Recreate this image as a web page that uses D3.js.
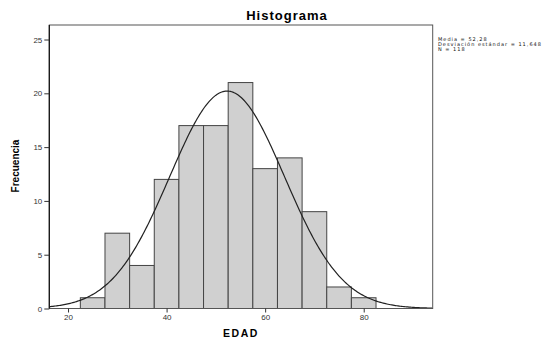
<!DOCTYPE html>
<html>
<head>
<meta charset="utf-8">
<script src="https://cdn.jsdelivr.net/npm/d3@7"></script>
<style>
  body { margin: 0; background: #fff; }
  text { font-family: "Liberation Sans", Arial, sans-serif; }
</style>
</head>
<body>
<svg id="chart" width="557" height="338"></svg>
<script>
// histogram bins (EDAD), width 5
const binStarts = [22.5, 27.5, 32.5, 37.5, 42.5, 47.5, 52.5, 57.5, 62.5, 67.5, 72.5, 77.5];
const counts = [1, 7, 4, 12, 17, 17, 21, 13, 14, 9, 2, 1];
const binWidth = 5;
const xTicks = [20, 40, 60, 80];
const yTicks = [0, 5, 10, 15, 20, 25];
const stats = { mean: 52.28, sd: 11.648, n: 118 };
const legendLines = ["Media = 52,28", "Desviación estándar = 11,648", "N = 118"];

const margin = {top: 25, left: 49.3, right: 124.3, bottom: 29.5};
const W = 557, H = 338;
const width = W - margin.left - margin.right;
const height = H - margin.top - margin.bottom;

const svg = d3.select("#chart");
const g = svg.append("g")
  .attr("transform", "translate(" + margin.left + "," + margin.top + ")");

const x = d3.scaleLinear().domain([16.2, 94]).range([0, width]);
const y = d3.scaleLinear().domain([0, 26.35]).range([height, 0]);

// bars
g.selectAll(".bar")
  .data(binStarts.map((s, i) => ({s: s, c: counts[i]})))
  .enter().append("rect")
  .attr("class", "bar")
  .attr("x", d => x(d.s))
  .attr("y", d => y(d.c))
  .attr("width", d => x(d.s + binWidth) - x(d.s))
  .attr("height", d => y(0) - y(d.c))
  .attr("fill", "#d0d0d0")
  .attr("stroke", "#444")
  .attr("stroke-width", 1);

// fitted normal curve
const curvePts = d3.range(x.domain()[0], x.domain()[1] + 0.01, 0.25).map(v => {
  const z = (v - stats.mean) / stats.sd;
  return [v, stats.n * binWidth / (stats.sd * Math.sqrt(2 * Math.PI)) * Math.exp(-0.5 * z * z)];
});
g.append("path")
  .datum(curvePts)
  .attr("fill", "none")
  .attr("stroke", "#222")
  .attr("stroke-width", 1.2)
  .attr("d", d3.line().x(d => x(d[0])).y(d => y(d[1])));

// frame
g.append("rect")
  .attr("width", width).attr("height", height)
  .attr("fill", "none").attr("stroke", "#555").attr("stroke-width", 1);
g.append("line").attr("x1", 0).attr("x2", 0).attr("y1", 0).attr("y2", height)
  .attr("stroke", "#111").attr("stroke-width", 1.2);

// axes
const yAxis = g.append("g")
  .call(d3.axisLeft(y).tickValues(yTicks).tickSize(5).tickPadding(2));
const xAxis = g.append("g")
  .attr("transform", "translate(0," + height + ")")
  .call(d3.axisBottom(x).tickValues(xTicks).tickSize(4).tickPadding(2));
[xAxis, yAxis].forEach(a => {
  a.select(".domain").remove();
  a.selectAll("line").attr("stroke", "#333");
  a.selectAll("text").attr("fill", "#333")
    .style("font-family", "'Liberation Sans', Arial, sans-serif")
    .style("font-size", "8px");
});

// titles
svg.append("text")
  .attr("x", 287).attr("y", 20)
  .attr("text-anchor", "middle")
  .style("font-size", "13px").style("font-weight", "bold").style("letter-spacing", "1px")
  .text("Histograma");

svg.append("text")
  .attr("x", 241).attr("y", 337)
  .attr("text-anchor", "middle")
  .style("font-size", "10.5px").style("font-weight", "bold").style("letter-spacing", "1.5px")
  .text("EDAD");

svg.append("text")
  .attr("transform", "translate(19,166) rotate(-90)")
  .attr("text-anchor", "middle")
  .style("font-size", "10px").style("font-weight", "bold")
  .text("Frecuencia");

// stats legend
svg.append("g").selectAll("text")
  .data(legendLines)
  .enter().append("text")
  .attr("x", 438)
  .attr("y", (d, i) => 40.5 + i * 5.3)
  .style("font-family", "'DejaVu Sans', sans-serif")
  .style("font-size", "5px").style("letter-spacing", "1px")
  .attr("fill", "#111")
  .text(d => d);
</script>
</body>
</html>
